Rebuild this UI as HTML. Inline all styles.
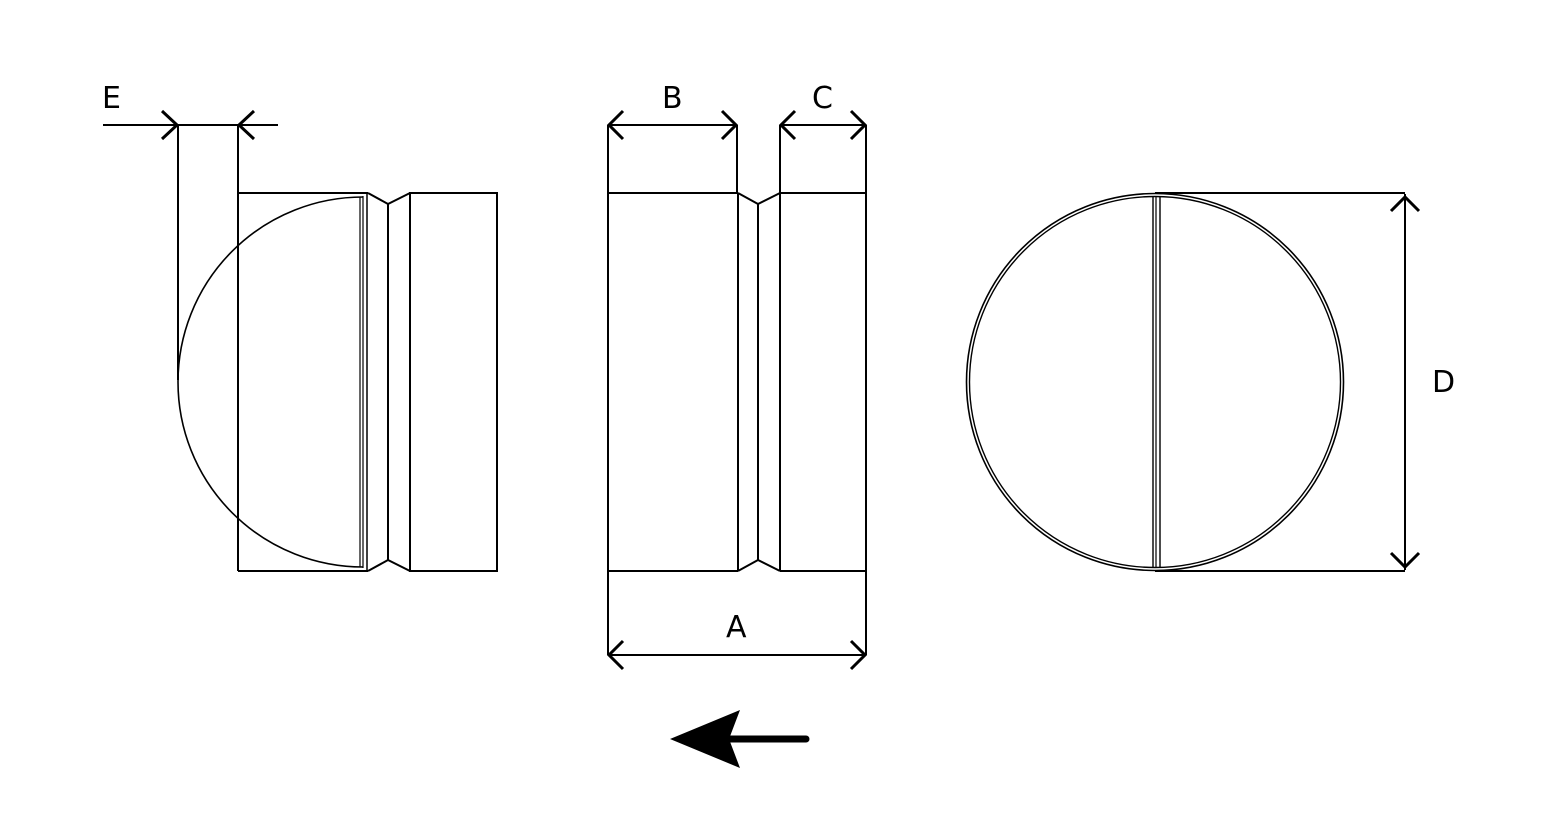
<!DOCTYPE html>
<html><head><style>body{margin:0;background:#fff}svg{display:block}</style></head><body>
<svg width="1554" height="832" viewBox="0 0 1554 832" xmlns="http://www.w3.org/2000/svg">
<g fill="none" stroke="#000" stroke-width="2">
<line x1="103" y1="125" x2="278" y2="125"/>
<line x1="178" y1="125" x2="178" y2="380"/>
<line x1="238" y1="125" x2="238" y2="571"/>
<line x1="238" y1="193" x2="368" y2="193"/>
<line x1="238" y1="571" x2="368" y2="571"/>
<path d="M363,197 A185,185 0 0 0 363,567" stroke-width="1.6"/>
<line x1="360" y1="197" x2="360" y2="567" stroke-width="1.2"/>
<line x1="363" y1="196" x2="363" y2="568" stroke-width="1.2"/>
<line x1="367" y1="194" x2="367" y2="570" stroke-width="1.5"/>
<polyline points="368,193 388,204 410,193"/>
<polyline points="368,571 388,560 410,571"/>
<line x1="388" y1="204" x2="388" y2="560"/>
<rect x="410" y="193" width="87" height="378"/>
<line x1="608" y1="125" x2="608" y2="655"/>
<line x1="866" y1="125" x2="866" y2="655"/>
<line x1="737" y1="125" x2="737" y2="193"/>
<line x1="780" y1="125" x2="780" y2="193"/>
<line x1="608" y1="125" x2="737" y2="125"/>
<line x1="780" y1="125" x2="866" y2="125"/>
<line x1="608" y1="655" x2="866" y2="655"/>
<line x1="608" y1="193" x2="738" y2="193"/>
<line x1="608" y1="571" x2="738" y2="571"/>
<line x1="738" y1="193" x2="738" y2="571"/>
<polyline points="738,193 758,204 780,193"/>
<polyline points="738,571 758,560 780,571"/>
<line x1="758" y1="204" x2="758" y2="560"/>
<line x1="780" y1="193" x2="866" y2="193"/>
<line x1="780" y1="571" x2="866" y2="571"/>
<line x1="780" y1="193" x2="780" y2="571"/>
<circle cx="1155" cy="382" r="188.5" stroke-width="1.6"/>
<circle cx="1155" cy="382" r="185.5" stroke-width="1.4"/>
<line x1="1153" y1="197" x2="1153" y2="567" stroke-width="1.4"/>
<line x1="1156" y1="197" x2="1156" y2="567" stroke-width="1.2"/>
<line x1="1160" y1="197" x2="1160" y2="567" stroke-width="1.4"/>
<line x1="1155" y1="193" x2="1405" y2="193"/>
<line x1="1155" y1="571" x2="1405" y2="571"/>
<line x1="1405" y1="194" x2="1405" y2="570"/>
</g>
<g fill="none" stroke="#000" stroke-width="3">
<polyline points="162,111 177,125 162,139"/>
<polyline points="254,111 239,125 254,139"/>
<polyline points="623,111 609,125 623,139"/>
<polyline points="722,111 736,125 722,139"/>
<polyline points="795,111 781,125 795,139"/>
<polyline points="851,111 865,125 851,139"/>
<polyline points="623,641 609,655 623,669"/>
<polyline points="851,641 865,655 851,669"/>
<polyline points="1391,211 1405,197 1419,211"/>
<polyline points="1391,553 1405,567 1419,553"/>
</g>
<line x1="730" y1="739" x2="806" y2="739" stroke="#000" stroke-width="7" stroke-linecap="round"/>
<polygon points="670,739 740,710 729,739 740,768" fill="#000"/>
<g font-family="'DejaVu Sans','Liberation Sans',sans-serif" font-size="30" fill="#000">
<text x="102" y="108">E</text>
<text x="662" y="108">B</text>
<text x="812" y="108">C</text>
<text x="726" y="637">A</text>
<text x="1432" y="392">D</text>
</g>
</svg>
</body></html>
